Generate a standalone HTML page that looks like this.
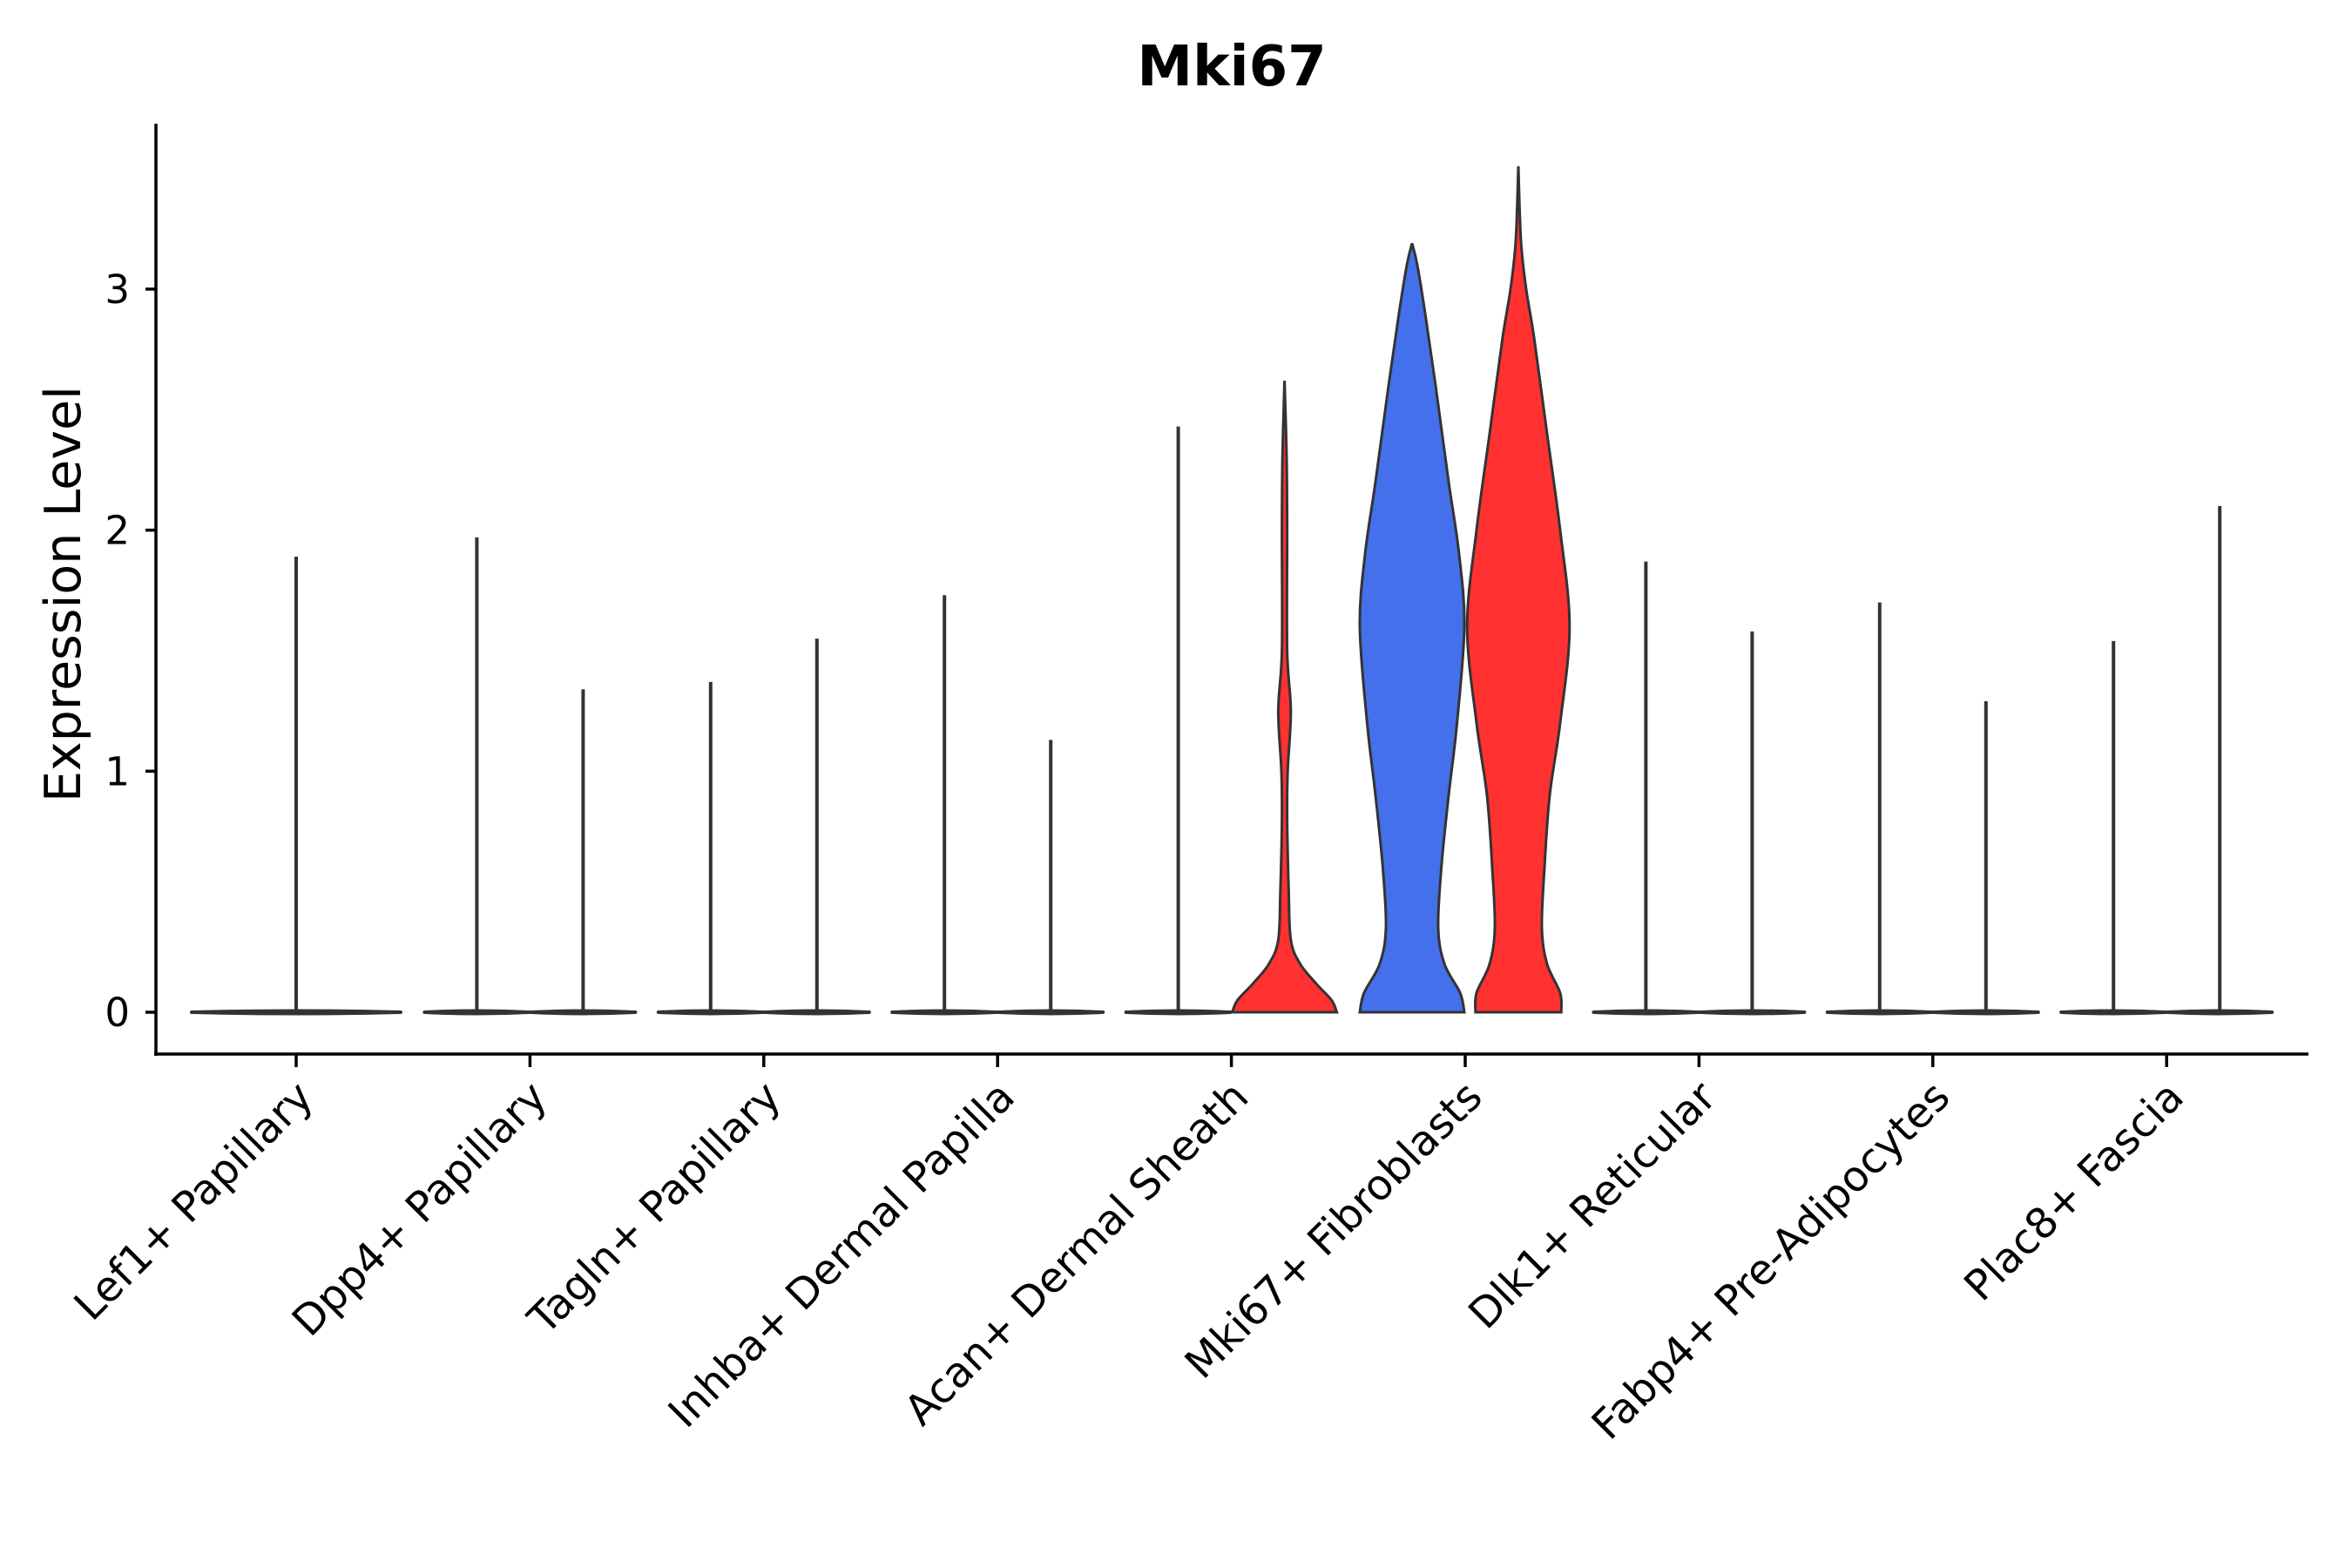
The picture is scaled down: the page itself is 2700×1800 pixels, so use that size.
<!DOCTYPE html>
<html><head><meta charset="utf-8"><style>
html,body{margin:0;padding:0;background:#fff}
svg{display:block}
text{font-family:"DejaVu Sans","Liberation Sans",sans-serif;fill:#000}
</style></head><body>
<svg id="chart" width="2700" height="1800" viewBox="0 0 2700 1800" xmlns="http://www.w3.org/2000/svg">
<text x="1414" y="98" font-size="64" font-weight="bold" text-anchor="middle">Mki67</text>
<text transform="translate(92,682) rotate(-90)" font-size="57" text-anchor="middle" fill="#111">Expression Level</text>
<g id="plot"></g>
</svg>
<script>
const categories = ["Lef1+ Papillary","Dpp4+ Papillary","Tagln+ Papillary","Inhba+ Dermal Papilla","Acan+ Dermal Sheath","Mki67+ Fibroblasts","Dlk1+ Reticular","Fabp4+ Pre-Adipocytes","Plac8+ Fascia"];
const yTicks = [0,1,2,3];
const violinCat  = [0, 1,1, 2,2, 3,3, 4,4, 5,5, 6,6, 7,7, 8,8];
const violinSide = [0, -1,1, -1,1, -1,1, -1,1, -1,1, -1,1, -1,1, -1,1];
const violinMax  = [1.89, 1.97,1.34, 1.37,1.55, 1.73,1.13, 2.43,2.62, 3.19,3.51, 1.87,1.58, 1.70,1.29, 1.54,2.10];
const violinGroup= [0, 0,1, 0,1, 0,1, 0,1, 0,1, 0,1, 0,1, 0,1];
const violinShape= [null, null,null, null,null, null,null, null,"acanRed", "mkiBlue","mkiRed", null,null, null,null, null,null];
const acanRedLevels = [0,0.05,0.12,0.2,0.3,0.5,0.8,1.0,1.25,1.5,2.0,2.3,2.62];
const acanRedWidths = [1.0,0.9,0.6,0.3,0.12,0.08,0.05,0.06,0.12,0.05,0.05,0.04,0];
const mkiBlueLevels = [0,0.08,0.2,0.35,0.6,0.9,1.2,1.6,1.9,2.2,2.6,2.9,3.1,3.19];
const mkiBlueWidths = [1.0,0.92,0.62,0.5,0.56,0.7,0.86,1.0,0.9,0.7,0.45,0.25,0.1,0];
const mkiRedLevels  = [0,0.08,0.2,0.35,0.6,0.9,1.2,1.6,2.0,2.4,2.8,3.0,3.2,3.51];
const mkiRedWidths  = [0.82,0.8,0.55,0.45,0.5,0.6,0.8,0.98,0.8,0.55,0.3,0.15,0.05,0];

const NS="http://www.w3.org/2000/svg";
const g=document.getElementById('plot');
const X0=179, XEND=2650, YBOT=1210, YTOP=142;
const xPos=i=>340+i*268.4;
const yPos=v=>1162-v*276.7;
const DODGE=61, HW=60;
const colors=["#4470eb","#ff3131"];
function el(tag,attrs){const e=document.createElementNS(NS,tag);for(const k in attrs)e.setAttribute(k,attrs[k]);g.appendChild(e);return e;}
function smooth(pts){
  let d="M"+pts[0][0]+","+pts[0][1];
  for(let i=0;i<pts.length-1;i++){
    const p0=pts[Math.max(0,i-1)],p1=pts[i],p2=pts[i+1],p3=pts[Math.min(pts.length-1,i+2)];
    const c1=[p1[0]+(p2[0]-p0[0])/6,p1[1]+(p2[1]-p0[1])/6];
    const c2=[p2[0]-(p3[0]-p1[0])/6,p2[1]-(p3[1]-p1[1])/6];
    d+=" C"+c1[0]+","+c1[1]+" "+c2[0]+","+c2[1]+" "+p2[0]+","+p2[1];
  }
  return d;
}
const shapes={acanRed:[acanRedLevels,acanRedWidths],mkiBlue:[mkiBlueLevels,mkiBlueWidths],mkiRed:[mkiRedLevels,mkiRedWidths]};
for(let k=0;k<violinCat.length;k++){
  const cx=xPos(violinCat[k])+violinSide[k]*DODGE;
  const hw=violinSide[k]===0?120:HW;
  const s=violinShape[k];
  if(s){
    const [lv,wd]=shapes[s];
    const right=lv.map((v,i)=>[cx+wd[i]*HW,yPos(v)]);
    const left=lv.map((v,i)=>[cx-wd[i]*HW,yPos(v)]).reverse();
    let d=smooth(right)+" "+smooth(left).replace("M","L")+" Z";
    const p=el('path',{d:d,fill:colors[violinGroup[k]],stroke:"#333",'stroke-width':3});
    
    
  } else {
    const base=el('path',{d:`M${cx-hw},${yPos(0)} Q${cx},${yPos(0)-3} ${cx+hw},${yPos(0)} Q${cx},${yPos(0)+3} ${cx-hw},${yPos(0)} Z`,fill:colors[violinGroup[k]],stroke:"#333",'stroke-width':4,'stroke-linejoin':'round'});
    
    
    const sp=el('line',{x1:cx,x2:cx,y1:yPos(0),y2:yPos(violinMax[k]),stroke:"#333",'stroke-width':4});
    
    
  }
}
const ya=el('line',{x1:X0,x2:X0,y1:YTOP,y2:YBOT+2,stroke:"#000",'stroke-width':3.5});


const xa=el('line',{x1:X0-2,x2:XEND,y1:YBOT,y2:YBOT,stroke:"#000",'stroke-width':3.5});


yTicks.forEach(v=>{
  const t=el('line',{x1:X0-12,x2:X0,y1:yPos(v),y2:yPos(v),stroke:"#000",'stroke-width':3.5});
  
  
  const tx=el('text',{x:X0-30,y:yPos(v)+16,'font-size':45,'text-anchor':'end',fill:'#111'});
  tx.textContent=v;
  
  
});
categories.forEach((c,i)=>{
  const x=xPos(i);
  const t=el('line',{x1:x,x2:x,y1:YBOT,y2:YBOT+15,stroke:"#000",'stroke-width':3.5});
  
  
  const tx=el('text',{transform:`translate(${x+22},${YBOT+52}) rotate(-45)`,'font-size':48,'text-anchor':'end',fill:'#111'});
  tx.textContent=c;
  
  
});
</script>
</body></html>
